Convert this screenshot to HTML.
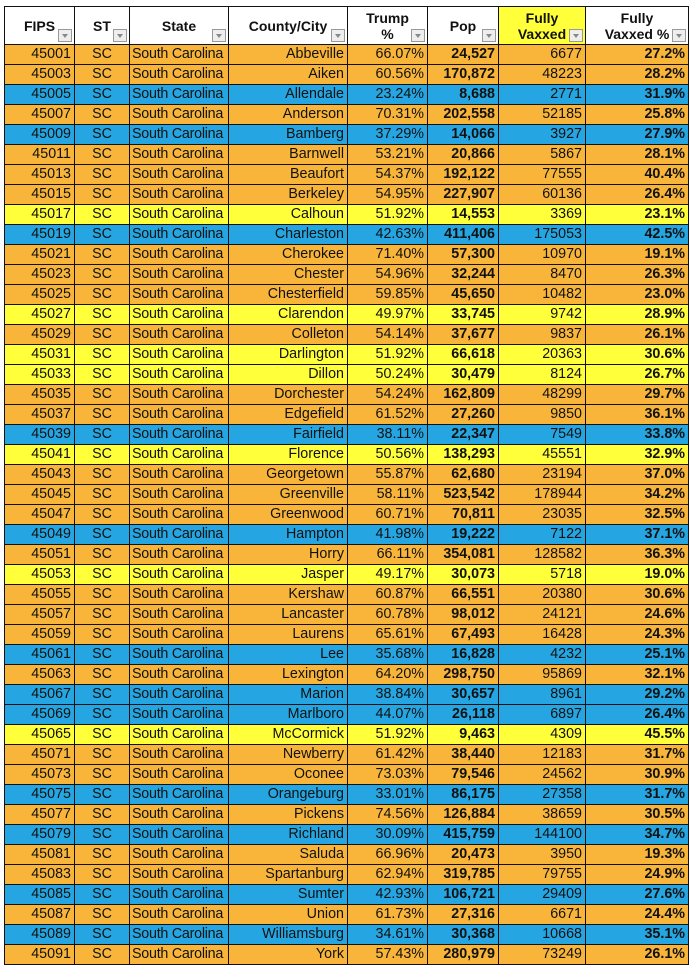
<!DOCTYPE html><html><head><style>
body{margin:0;background:#fff;width:692px;height:970px;overflow:hidden;font-family:"Liberation Sans",Arial,sans-serif}
table{position:absolute;left:4px;top:6px;border-collapse:collapse;table-layout:fixed;width:684px}
tr{height:20px}
tr.hd{height:38px}
td,th{border:1.3px solid #111;padding:0 3px;font-size:14.3px;line-height:17px;white-space:nowrap;overflow:hidden;color:#111;vertical-align:middle}
th{background:#fff;font-weight:bold;font-size:14px;line-height:16px;position:relative}
th i{position:absolute;right:2px;bottom:2px;width:12px;height:11px;border:1px solid #999;background:#eee}
th i:after{content:"";position:absolute;left:3px;top:4px;border:3px solid transparent;border-top:4px solid #888}
td{text-align:right}
td:nth-child(2){text-align:center}td:nth-child(3){text-align:left;padding-left:2px;padding-right:0;letter-spacing:-0.25px}
td:nth-child(6),td:nth-child(8){font-weight:bold}
tr.o td{background:#F9B53A}tr.b td{background:#25A6E2}tr.y td{background:#FFFF3A}
</style></head><body>
<table>
<colgroup><col style="width:70px"><col style="width:55px"><col style="width:99px"><col style="width:119px"><col style="width:80px"><col style="width:71px"><col style="width:87px"><col style="width:103px"></colgroup>
<tr class="hd"><th>FIPS<i></i></th><th>ST<i></i></th><th>State<i></i></th><th>County/City<i></i></th><th>Trump<br>%<i></i></th><th>Pop<i></i></th><th style="background:#FFFF3A">Fully<br>Vaxxed<i></i></th><th>Fully<br>Vaxxed %<i></i></th></tr>
<tbody id="t"></tbody></table>
<script>
var d=`o|45001|Abbeville|66.07%|24,527|6677|27.2%
o|45003|Aiken|60.56%|170,872|48223|28.2%
b|45005|Allendale|23.24%|8,688|2771|31.9%
o|45007|Anderson|70.31%|202,558|52185|25.8%
b|45009|Bamberg|37.29%|14,066|3927|27.9%
o|45011|Barnwell|53.21%|20,866|5867|28.1%
o|45013|Beaufort|54.37%|192,122|77555|40.4%
o|45015|Berkeley|54.95%|227,907|60136|26.4%
y|45017|Calhoun|51.92%|14,553|3369|23.1%
b|45019|Charleston|42.63%|411,406|175053|42.5%
o|45021|Cherokee|71.40%|57,300|10970|19.1%
o|45023|Chester|54.96%|32,244|8470|26.3%
o|45025|Chesterfield|59.85%|45,650|10482|23.0%
y|45027|Clarendon|49.97%|33,745|9742|28.9%
o|45029|Colleton|54.14%|37,677|9837|26.1%
y|45031|Darlington|51.92%|66,618|20363|30.6%
y|45033|Dillon|50.24%|30,479|8124|26.7%
o|45035|Dorchester|54.24%|162,809|48299|29.7%
o|45037|Edgefield|61.52%|27,260|9850|36.1%
b|45039|Fairfield|38.11%|22,347|7549|33.8%
y|45041|Florence|50.56%|138,293|45551|32.9%
o|45043|Georgetown|55.87%|62,680|23194|37.0%
o|45045|Greenville|58.11%|523,542|178944|34.2%
o|45047|Greenwood|60.71%|70,811|23035|32.5%
b|45049|Hampton|41.98%|19,222|7122|37.1%
o|45051|Horry|66.11%|354,081|128582|36.3%
y|45053|Jasper|49.17%|30,073|5718|19.0%
o|45055|Kershaw|60.87%|66,551|20380|30.6%
o|45057|Lancaster|60.78%|98,012|24121|24.6%
o|45059|Laurens|65.61%|67,493|16428|24.3%
b|45061|Lee|35.68%|16,828|4232|25.1%
o|45063|Lexington|64.20%|298,750|95869|32.1%
b|45067|Marion|38.84%|30,657|8961|29.2%
b|45069|Marlboro|44.07%|26,118|6897|26.4%
y|45065|McCormick|51.92%|9,463|4309|45.5%
o|45071|Newberry|61.42%|38,440|12183|31.7%
o|45073|Oconee|73.03%|79,546|24562|30.9%
b|45075|Orangeburg|33.01%|86,175|27358|31.7%
o|45077|Pickens|74.56%|126,884|38659|30.5%
b|45079|Richland|30.09%|415,759|144100|34.7%
o|45081|Saluda|66.96%|20,473|3950|19.3%
o|45083|Spartanburg|62.94%|319,785|79755|24.9%
b|45085|Sumter|42.93%|106,721|29409|27.6%
o|45087|Union|61.73%|27,316|6671|24.4%
b|45089|Williamsburg|34.61%|30,368|10668|35.1%
o|45091|York|57.43%|280,979|73249|26.1%`;
var h="";d.split("\n").forEach(function(l){var p=l.split("|");h+='<tr class="'+p[0]+'"><td>'+p[1]+'</td><td>SC</td><td>South Carolina</td><td>'+p[2]+'</td><td>'+p[3]+'</td><td>'+p[4]+'</td><td>'+p[5]+'</td><td>'+p[6]+'</td></tr>';});
document.getElementById("t").innerHTML=h;
</script></body></html>
